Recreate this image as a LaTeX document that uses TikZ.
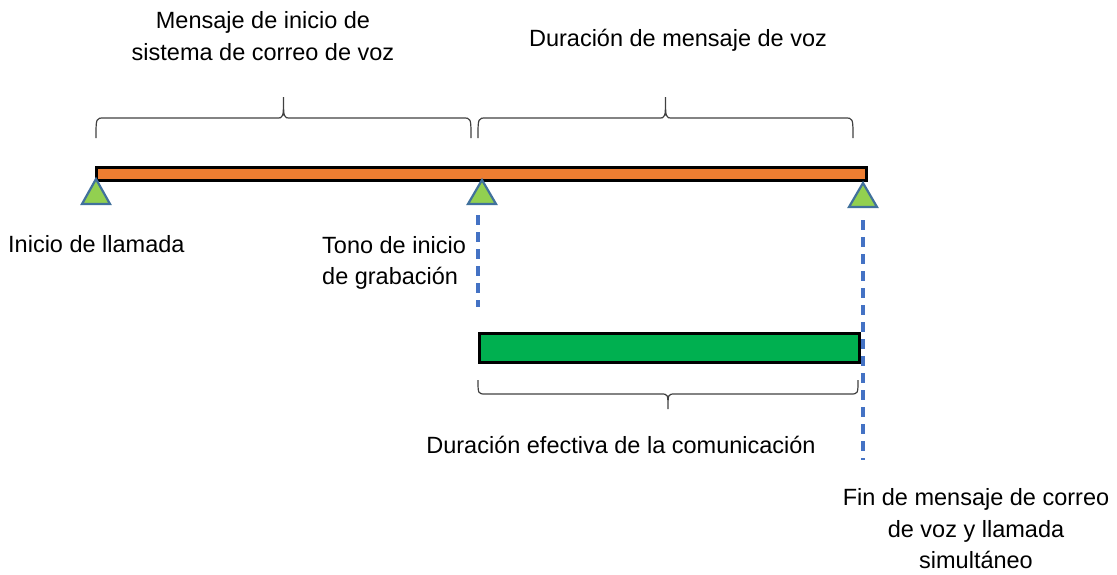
\documentclass[tikz,border=0pt]{standalone}
\usepackage{fontspec}
\setmainfont{Liberation Sans}
\definecolor{barorange}{HTML}{ED7D31}
\definecolor{bargreen}{HTML}{00B050}
\definecolor{trifill}{HTML}{92D050}
\definecolor{triedge}{HTML}{41719C}
\definecolor{dashblue}{HTML}{4472C4}
\definecolor{bracegray}{HTML}{404040}
\newcommand{\mycbrace}[5]{%
  \pgfmathsetmacro{\bxm}{(#1+#2)/2}%
  \draw[bracestyle] (#1,#3) .. controls (#1,#4) .. ({#1+8},#4) -- ({\bxm-7},#4)
     .. controls (\bxm,#4) .. (\bxm,#5)
     .. controls (\bxm,#4) .. ({\bxm+7},#4) -- ({#2-8},#4)
     .. controls (#2,#4) .. (#2,#3);}
\begin{document}
\begin{tikzpicture}[x=1pt,y=-1pt,
  lbl/.style={inner sep=0pt,font=\fontsize{23.5}{31.5}\selectfont,text=black},
  barbox/.style={draw=black,line width=2.6pt,inner sep=0pt,anchor=north west},
  tri/.style={fill=trifill,draw=triedge,line width=2.2pt,line join=miter},
  vdash/.style={draw=dashblue,line width=3.6pt,dash pattern=on 10pt off 7pt},
  bracestyle/.style={draw=bracegray,line width=1.2pt}]
\useasboundingbox (0,0) rectangle (1117,574);

% bars
\node[barbox,fill=barorange,minimum width=770pt,minimum height=13pt] (orange) at (95,166) {};
\node[barbox,fill=bargreen,minimum width=380pt,minimum height=29pt] (green) at (478,332) {};

% triangles
\draw[tri] (96,179) -- (110,204) -- (82,204) -- cycle;
\draw[tri] (482,180) -- (496,204) -- (468,204) -- cycle;
\draw[tri] (863,183) -- (877,207) -- (849,207) -- cycle;

% dashed lines
\coordinate (d1a) at (478,215);
\coordinate (d1b) at (478,307);
\coordinate (d2a) at (863,220);
\coordinate (d2b) at (863,460);
\draw[vdash] (d1a) -- (d1b);
\draw[vdash] (d2a) -- (d2b);

% braces
\mycbrace{96}{471}{138}{118}{97}
\mycbrace{478}{853}{138}{118}{97}
\mycbrace{478}{858}{380}{394}{409}

% labels
\node[lbl,align=center] (t1) at (263,36) {Mensaje de inicio de\\sistema de correo de voz};
\node[lbl] (t2) at (678,40) {Duración de mensaje de voz};
\node[lbl,anchor=west] (t3) at (8,244) {Inicio de llamada};
\node[lbl,align=left,anchor=west] (t4) at (322,263) {Tono de inicio\\de grabación};
\node[lbl] (t5) at (621,445) {Duración efectiva de la comunicación};
\node[lbl,align=center] (t6) at (976,529) {Fin de mensaje de correo\\de voz y llamada\\simultáneo};
\end{tikzpicture}
\end{document}
